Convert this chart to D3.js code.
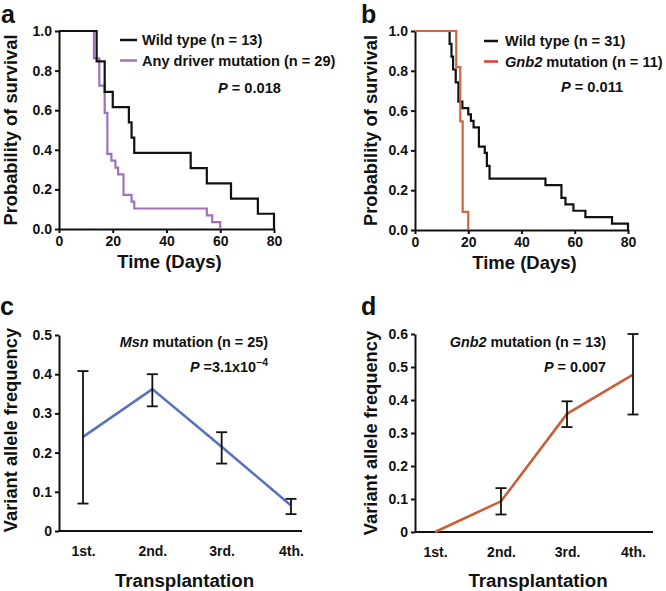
<!DOCTYPE html>
<html><head><meta charset="utf-8">
<script src="https://cdn.jsdelivr.net/npm/d3@7"></script>
<style>
body{margin:0;background:#fff}
svg{display:block}
text{font-family:"Liberation Sans",Arial,Helvetica,sans-serif;font-weight:bold;fill:#111}
</style>
</head><body>
<svg id="chart" width="666" height="591"></svg>
<script>
// ---------- data ----------
const dayTicks = [0, 20, 40, 60, 80];
const survTicks = [0, 0.2, 0.4, 0.6, 0.8, 1.0];

// panel a : Kaplan-Meier (event time, number still alive)
const aWtN = 13;
const aWtTimes  = [14, 17, 20, 26, 27, 28, 49, 55, 64, 74, 80];
const aWtAlive  = [11,  9,  8,  7,  6,  5,  4,  3,  2,  1,  0];
const aMutN = 29;
const aMutTimes = [13, 15, 17, 18, 19.5, 21, 22, 24, 27, 28, 55, 57, 60];
const aMutAlive = [25, 21, 17, 11, 10,   9,  8,  5,  4,  3,  2,  1,  0];

// panel b
const bWtN = 31;
const bWtTimes  = [13, 13.7, 14.3, 15.3, 16.3, 17.8, 20, 21, 22, 24, 26.2, 27, 28, 49, 55, 56.5, 59.5, 64, 74, 80];
const bWtAlive  = [29, 27,   25,   23,   20,   19,   18, 17, 16, 13, 12,   10,  8,  7,  5,  4,    3,    2,  1,  0];
const bMutN = 11;
const bMutTimes = [15.5, 17, 17.9, 20];
const bMutAlive = [9,    6,  1,    0];

// panels c & d : variant allele frequency per transplantation
const transCats = ["1st.", "2nd.", "3rd.", "4th."];
const msnMean = [0.240, 0.362, 0.215, 0.065];
const msnLow  = [0.070, 0.318, 0.172, 0.043];
const msnHigh = [0.408, 0.400, 0.252, 0.082];
const vafTicksC = [0, 0.1, 0.2, 0.3, 0.4, 0.5];

const gnbMean = [0.000, 0.093, 0.358, 0.477];
const gnbLow  = [null,  0.053, 0.318, 0.356];
const gnbHigh = [null,  0.133, 0.396, 0.600];
const vafTicksD = [0, 0.1, 0.2, 0.3, 0.4, 0.5, 0.6];

// ---------- drawing ----------
const svg = d3.select("#chart");
const FONT = '"Liberation Sans",Arial,Helvetica,sans-serif';
const ink = "#111";

function styleAxis(g) {
  g.attr("font-family", FONT).attr("font-size", 14).attr("font-weight", "bold");
  g.selectAll(".domain").attr("stroke", ink).attr("stroke-width", 2);
  g.selectAll(".tick line").attr("stroke", ink).attr("stroke-width", 2);
  g.selectAll(".tick text").attr("fill", ink);
}

function kmPoints(times, alive, n) {
  const pts = [[0, 1]];
  times.forEach((t, i) => pts.push([t, alive[i] / n]));
  return pts;
}

function survivalPanel(o) {
  const x = d3.scaleLinear().domain([0, 80]).range([o.x0, o.x1]);
  const y = d3.scaleLinear().domain([0, 1]).range([o.y0, o.y1]);
  const g = svg.append("g");
  g.append("g").attr("transform", `translate(0,${o.y0})`)
    .call(d3.axisBottom(x).tickValues(dayTicks).tickSize(4).tickSizeOuter(0).tickPadding(3))
    .call(styleAxis);
  g.append("g").attr("transform", `translate(${o.x0},0)`)
    .call(d3.axisLeft(y).tickValues(survTicks).tickFormat(d3.format(".1f")).tickSize(4).tickSizeOuter(0).tickPadding(3))
    .call(styleAxis);
  const line = d3.line().x(d => x(d[0])).y(d => y(d[1])).curve(d3.curveStepAfter);
  o.series.forEach(s => {
    g.append("path").datum(kmPoints(s.times, s.alive, s.n))
      .attr("d", line).attr("fill", "none").attr("stroke", s.color)
      .attr("stroke-width", 2.2).attr("stroke-linejoin", "miter");
  });
  // axis titles
  g.append("text").attr("x", (o.x0 + o.x1) / 2 + 3).attr("y", o.y0 + 39)
    .attr("text-anchor", "middle").attr("font-size", 18.5).text("Time (Days)");
  g.append("text").attr("transform", `translate(${o.ylabX},${(o.y0 + o.y1) / 2}) rotate(-90)`)
    .attr("text-anchor", "middle").attr("font-size", 18.3).text("Probability of survival");
  // legend
  o.legend.forEach((l, i) => {
    const ly = o.legY + i * 20.5;
    g.append("line").attr("x1", o.legX).attr("x2", o.legX + o.legW).attr("y1", ly).attr("y2", ly)
      .attr("stroke", l.color).attr("stroke-width", 2.5);
    const t = g.append("text").attr("x", o.legTX).attr("y", ly + 5).attr("font-size", 14.6);
    l.parts.forEach(p => t.append("tspan").attr("font-style", p.it ? "italic" : "normal").text(p.t));
  });
  const pt = g.append("text").attr("x", o.pX).attr("y", o.pY).attr("font-size", 14.6);
  pt.append("tspan").attr("font-style", "italic").text("P");
  pt.append("tspan").text(" = " + o.pVal);
  g.append("text").attr("x", o.letX).attr("y", o.letY).attr("font-size", 25).text(o.letter);
}

survivalPanel({
  x0: 59, x1: 274, y0: 229, y1: 31, ylabX: 17,
  series: [
    {times: aMutTimes, alive: aMutAlive, n: aMutN, color: "#a072bb"},
    {times: aWtTimes, alive: aWtAlive, n: aWtN, color: ink}
  ],
  legend: [
    {color: ink, parts: [{t: "Wild type (n = 13)"}]},
    {color: "#a072bb", parts: [{t: "Any driver mutation (n = 29)"}]}
  ],
  legX: 120, legW: 17, legTX: 142, legY: 40,
  pX: 218, pY: 93, pVal: "0.018",
  letter: "a", letX: 1, letY: 23
});

survivalPanel({
  x0: 415, x1: 628, y0: 230, y1: 31, ylabX: 377,
  series: [
    {times: bWtTimes, alive: bWtAlive, n: bWtN, color: ink},
    {times: bMutTimes, alive: bMutAlive, n: bMutN, color: "#d0653e"}
  ],
  legend: [
    {color: ink, parts: [{t: "Wild type (n = 31)"}]},
    {color: "#e23a2c", parts: [{t: "Gnb2", it: true}, {t: " mutation (n = 11)"}]}
  ],
  legX: 484, legW: 14, legTX: 505, legY: 41,
  pX: 561, pY: 92, pVal: "0.011",
  letter: "b", letX: 361, letY: 23
});

function vafPanel(o) {
  const x = d3.scalePoint().domain(transCats).range([o.c0, o.c1]);
  const y = d3.scaleLinear().domain([0, o.ymax]).range([o.y0, o.y1]);
  const g = svg.append("g");
  g.append("g").attr("transform", `translate(${o.x0},0)`)
    .call(d3.axisLeft(y).tickValues(o.ticks).tickFormat(d => d === 0 ? "0" : d3.format(".1f")(d)).tickSize(4).tickSizeOuter(0).tickPadding(3))
    .call(styleAxis);
  const xa = g.append("g").attr("transform", `translate(0,${o.y0})`)
    .call(d3.axisBottom(x).tickSize(0).tickPadding(15))
    .call(styleAxis);
  xa.select(".domain").remove();
  g.append("line").attr("x1", o.x0).attr("x2", o.x1).attr("y1", o.y0).attr("y2", o.y0)
    .attr("stroke", ink).attr("stroke-width", 2);
  // line
  const line = d3.line().x((d, i) => x(transCats[i])).y(d => y(d));
  g.append("path").datum(o.mean).attr("d", line).attr("fill", "none")
    .attr("stroke", o.color).attr("stroke-width", 2.6);
  // error bars
  transCats.forEach((c, i) => {
    if (o.low[i] == null) return;
    const cx = x(c), cw = 5.5;
    g.append("line").attr("x1", cx).attr("x2", cx).attr("y1", y(o.low[i])).attr("y2", y(o.high[i]))
      .attr("stroke", ink).attr("stroke-width", 1.8);
    [o.low[i], o.high[i]].forEach(v => g.append("line").attr("x1", cx - cw).attr("x2", cx + cw)
      .attr("y1", y(v)).attr("y2", y(v)).attr("stroke", ink).attr("stroke-width", 1.8));
  });
  g.append("text").attr("x", (o.x0 + o.x1) / 2 + 4).attr("y", 587)
    .attr("text-anchor", "middle").attr("font-size", 18.7).text("Transplantation");
  g.append("text").attr("transform", `translate(${o.ylabX},${o.ylabY}) rotate(-90)`)
    .attr("text-anchor", "middle").attr("font-size", 18.3).text("Variant allele frequency");
  const t1 = g.append("text").attr("x", o.tX).attr("y", 347).attr("text-anchor", "end").attr("font-size", 14.4);
  t1.append("tspan").attr("font-style", "italic").text(o.gene);
  t1.append("tspan").text(o.title);
  const t2 = g.append("text").attr("x", o.tX).attr("y", 372).attr("text-anchor", "end").attr("font-size", 14.4);
  t2.append("tspan").attr("font-style", "italic").text("P");
  o.pParts.forEach(p => {
    if (p.sup) t2.append("tspan").attr("dy", -6).attr("font-size", 10.5).text(p.t);
    else t2.append("tspan").text(p.t);
  });
  g.append("text").attr("x", o.letX).attr("y", o.letY).attr("font-size", 25).text(o.letter);
}

vafPanel({
  x0: 59, x1: 302, c0: 83, c1: 291, y0: 531, y1: 335, ymax: 0.5, ticks: vafTicksC,
  mean: msnMean, low: msnLow, high: msnHigh, color: "#5873bd",
  ylabX: 17, ylabY: 430, tX: 268,
  gene: "Msn", title: " mutation (n = 25)",
  pParts: [{t: " =3.1x10"}, {t: "\u22124", sup: true}],
  letter: "c", letX: 0, letY: 315
});

vafPanel({
  x0: 415, x1: 653, c0: 435, c1: 633, y0: 532, y1: 334, ymax: 0.6, ticks: vafTicksD,
  mean: gnbMean, low: gnbLow, high: gnbHigh, color: "#c9603a",
  ylabX: 377, ylabY: 433, tX: 606,
  gene: "Gnb2", title: " mutation (n = 13)",
  pParts: [{t: " = 0.007"}],
  letter: "d", letX: 361, letY: 315
});
</script>
</body></html>
